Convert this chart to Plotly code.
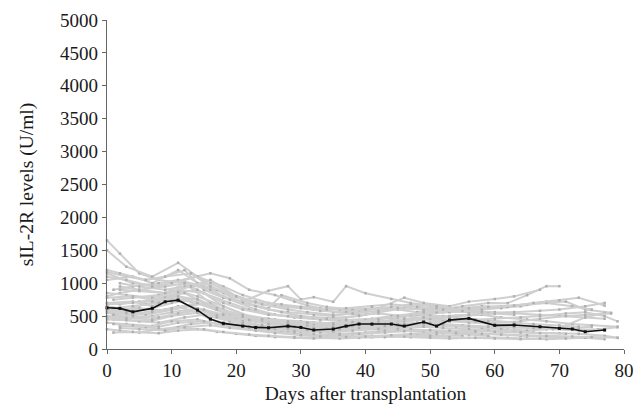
import plotly.graph_objects as go

# Median curve
median_days = [0,2,4,7,9,11,14,16,18,21,23,25,28,30,32,35,37,39,41,44,46,49,51,53,56,60,63,67,70,72,74,77]
median_vals = [626,617,565,617,717,742,591,455,389,348,328,323,348,328,288,303,348,379,379,379,348,409,348,439,465,359,364,338,313,303,262,288]

# Individual patients (days, values)
p01_d = [0,2,5,8,12,15,19,22,26,29,33,36,40]
p01_v = [1650,1450,1150,1050,1000,850,700,600,520,480,450,430,400]
p02_d = [0,3,7,11,14,18,21,25,28,32,35,39,42,46,49,53]
p02_v = [1500,1250,1100,1310,1100,950,820,700,650,600,560,520,540,500,470,450]
p03_d = [0,4,8,12,16,19,22,26,29,31,33,36,38]
p03_v = [1150,1000,960,1050,1150,1075,900,820,720,660,620,600,580]
p04_d = [0,3,6,9,12,15,18,21,25,28,30,32,35,37,40,44,47,50,53]
p04_v = [1170,1100,1050,1100,1200,900,780,720,885,955,753,788,717,955,848,760,700,660,620]
p05_d = [1,4,8,11,15,18,22,25,27,31,34,38,41,45,48,52,55,59,62,65,68,70]
p05_v = [900,950,1000,1050,950,800,680,620,818,700,640,600,620,600,560,600,650,700,697,818,955,955]
p06_d = [0,4,7,11,14,18,21,25,28,32,35,39,42,46,49,53,56,60,63,67]
p06_v = [1050,1100,1000,1200,1000,850,700,600,560,520,500,560,620,780,700,650,720,760,800,900]
p07_d = [2,5,9,12,16,19,23,26,30,33,37,40,44,47,51,54,58,61,64,67,71,74,78]
p07_v = [950,900,850,1000,900,750,600,520,480,450,480,520,600,650,620,580,600,620,650,700,720,600,550]
p08_d = [0,2,5,9,12,16,19,23,26,30,33,37,40,44,47,51,54,58,61,65,68,72,75,79]
p08_v = [800,850,900,950,1000,700,550,480,450,420,400,380,400,420,450,480,500,520,480,450,420,380,360,340]
p09_d = [1,4,8,11,15,18,22,25,29,32,36,39,43,46,50,53,57,60,64]
p09_v = [750,780,820,900,850,650,500,420,380,360,350,380,420,500,520,480,450,420,400]
p10_d = [0,4,7,11,14,18,21,25,28,32,35,39,42,46,49,53,56,60,63,67,70,74,77]
p10_v = [700,720,650,800,700,550,450,400,360,340,320,350,380,420,450,420,400,380,360,340,320,480,550]
p11_d = [0,3,6,10,13,17,20,24,27,31,34,38,41,45,48,52,55]
p11_v = [650,600,680,750,720,600,500,450,420,400,380,400,450,480,520,560,600]
p12_d = [2,5,9,12,16,19,23,26,30,33,37,40,44,47,51,54,58,61,65,68,72,75]
p12_v = [600,620,580,650,700,500,420,380,350,320,300,320,350,380,360,340,320,300,280,300,320,340]
p13_d = [0,2,4,7,9,11,14,16,18,21,23,25,28,30,32,35,37,39,42,44,46,49]
p13_v = [550,500,520,580,600,650,550,450,400,350,320,300,280,260,250,270,300,320,340,360,380,400]
p14_d = [0,3,7,10,14,17,21,24,28,31,35,38,42,45,49,52,56,59,63,66,70,73,77,79]
p14_v = [500,480,450,520,600,500,400,350,300,280,260,280,300,320,340,320,300,280,260,250,240,230,200,170]
p15_d = [1,5,8,12,15,19,22,26,29,33,36,40,43,47,50,54,57,61,64,68,71]
p15_v = [450,420,400,480,520,420,350,300,280,250,230,250,280,300,280,260,240,220,200,190,180]
p16_d = [0,3,7,10,14,17,21,24,28,31,35,38,42,45,49,52,56,59]
p16_v = [400,380,350,420,450,380,320,280,250,220,200,220,250,280,260,240,220,200]
p17_d = [2,6,9,13,16,20,23,27,30,34,37,41,44,48,51,55]
p17_v = [350,330,300,380,400,350,300,250,220,200,190,180,200,220,210,200]
p18_d = [0,2,5,8,11,14,17,20,23,26,29,32,35,38,41,44,47,50,53,56,59,62,65,68,71,74,77]
p18_v = [300,280,250,300,330,300,260,230,200,180,170,160,170,180,200,190,180,170,160,170,180,170,160,150,160,170,150]
p19_d = [1,4,8,11,15,18,22,25,29,32,36,39,43,46,50,53,57,60,64,67,71]
p19_v = [250,260,240,280,300,260,220,200,180,170,160,170,180,190,200,180,170,160,150,160,170]
p20_d = [0,3,7,11,14,18,21,25,28,32,35,39,42,46,49,53,56,60,63,67,70,74,77]
p20_v = [850,820,780,880,800,650,520,460,420,400,380,420,460,500,540,560,580,560,540,520,500,480,460]
p21_d = [2,5,9,12,16,19,23,26,30,33,37,40,44,47,51,54,58,61,65,68]
p21_v = [1000,950,900,950,1000,850,700,650,620,580,560,600,640,680,650,620,600,640,680,720]
p22_d = [0,4,7,11,14,18,21,25,28,32,35,39,42,46,49,53,56,60,63]
p22_v = [780,800,750,850,900,700,600,520,500,480,470,500,560,620,600,580,560,540,520]
p23_d = [1,4,8,11,15,18,22,25,29,32,36,39,43,46,50,53,57,60,64,67,71,74,78]
p23_v = [620,650,700,760,680,560,460,400,380,360,350,370,400,430,460,440,420,400,420,460,500,520,540]
p24_d = [0,3,6,10,13,17,20,24,27,31,34,38,41,45,48,52,55,59,62,66,69,73,76,79]
p24_v = [580,560,520,600,650,540,460,400,360,330,320,340,360,380,400,380,360,340,330,320,300,280,300,330]
p25_d = [0,3,7,10,14,17,21,24,28,31,35,38,42,45,49,52,56]
p25_v = [1100,1050,950,1000,1100,900,750,680,600,560,520,540,580,620,600,580,560]
p26_d = [2,5,9,13,16,20,23,27,30,34,37,41,44,48,51,55,58,62]
p26_v = [900,880,850,950,1050,800,650,560,500,460,440,460,500,540,580,620,650,640]
p27_d = [0,3,7,10,14,17,21,24,28,31,35,38,42,45,49,52,56,59,63,66,70,73]
p27_v = [480,460,500,560,620,520,420,360,320,300,280,300,330,360,400,420,440,420,400,380,360,340]
p28_d = [0,2,5,9,12,16,19,23,26,30,33,37,40,44,47,51,54,58,61,65,68,72,75]
p28_v = [700,680,720,780,850,650,520,450,420,400,390,410,440,480,520,560,600,620,650,680,700,650,600]
p29_d = [1,4,8,11,15,18,22,25,29,32,36,39,43,46,50,53,57,60,64,67,71]
p29_v = [380,360,340,400,420,360,300,260,240,220,210,230,250,270,290,280,270,260,250,240,230]
p30_d = [0,3,7,10,14,17,21,24,28,31,35,38,42,45,49,52,56,59,63]
p30_v = [550,540,560,620,700,600,480,420,380,360,340,360,400,440,480,500,520,540,560]
p31_d = [0,4,7,11,14,18,21,25,28,32,35,39,42,46,49,53,56,60,63,67,70,74,77]
p31_v = [680,700,720,800,750,600,500,440,400,380,370,390,420,460,480,500,520,540,560,580,600,650,700]
p32_d = [0,2,6,9,13,16,20,23,27,30,34,37,41,44,48,51,55,58]
p32_v = [1200,1150,1050,1100,1150,950,800,720,680,640,600,620,650,680,640,600,580,560]
p33_d = [2,5,9,12,16,19,23,26,30,33,37,40,44,47,51,54,58,61,65,68,72,75,79]
p33_v = [320,300,280,330,360,320,280,240,210,190,180,190,210,230,250,240,230,220,210,200,190,180,170]
p34_d = [0,3,7,10,14,17,21,24,28,31,35,38,42,45,49,52,56,59,63,66,70,73,77]
p34_v = [450,440,430,500,550,480,400,350,310,290,270,290,320,350,370,360,350,340,330,320,310,300,290]
p35_d = [1,4,8,11,15,18,22,25,29,32,36,39,43,46,50,53,57,60,64,67,71,74,77,79]
p35_v = [520,500,480,540,600,520,440,380,340,320,300,320,350,380,400,420,440,460,480,500,540,560,500,420]
p36_d = [0,3,7,10,14,17,21,24,28,31,35,38,42,45,49,52,56,59,63,66,70,73,77]
p36_v = [600,580,620,700,760,620,500,450,420,400,390,410,450,500,560,600,620,640,660,700,740,780,660]

patients = [
    (p01_d, p01_v), (p02_d, p02_v), (p03_d, p03_v), (p04_d, p04_v), (p05_d, p05_v),
    (p06_d, p06_v), (p07_d, p07_v), (p08_d, p08_v), (p09_d, p09_v), (p10_d, p10_v),
    (p11_d, p11_v), (p12_d, p12_v), (p13_d, p13_v), (p14_d, p14_v), (p15_d, p15_v),
    (p16_d, p16_v), (p17_d, p17_v), (p18_d, p18_v), (p19_d, p19_v), (p20_d, p20_v),
    (p21_d, p21_v), (p22_d, p22_v), (p23_d, p23_v), (p24_d, p24_v), (p25_d, p25_v),
    (p26_d, p26_v), (p27_d, p27_v), (p28_d, p28_v), (p29_d, p29_v), (p30_d, p30_v),
    (p31_d, p31_v), (p32_d, p32_v), (p33_d, p33_v), (p34_d, p34_v), (p35_d, p35_v),
    (p36_d, p36_v),
]

x_ticks = [0, 10, 20, 30, 40, 50, 60, 70, 80]
y_ticks = [0, 500, 1000, 1500, 2000, 2500, 3000, 3500, 4000, 4500, 5000]

fig = go.Figure()
for d, v in patients:
    fig.add_trace(go.Scatter(
        x=d, y=v, mode="lines+markers",
        line=dict(color="#cfcfcf", width=2),
        marker=dict(symbol="square", size=2.5, color="#b0b0b0"),
        cliponaxis=False, showlegend=False, hoverinfo="skip",
    ))
fig.add_trace(go.Scatter(
    x=median_days, y=median_vals, mode="lines+markers",
    line=dict(color="#111111", width=1.6),
    marker=dict(symbol="square", size=3, color="#111111"),
    cliponaxis=False, showlegend=False,
))

font_family = "Liberation Serif, Times New Roman, serif"
fig.update_layout(
    width=636, height=396,
    margin=dict(l=99, r=20, t=12, b=55),
    paper_bgcolor="white", plot_bgcolor="white",
    font=dict(family=font_family, size=19, color="#1a1a1a"),
)
fig.update_xaxes(
    range=[0, 80], tickvals=x_ticks, ticks="outside", ticklen=4, tickcolor="#666666",
    showline=True, linecolor="#666666", linewidth=1.2, showgrid=False, zeroline=False,
    title=dict(text="Days after transplantation", font=dict(size=19.5), standoff=7),
    tickfont=dict(size=19), automargin=False,
)
fig.update_yaxes(
    range=[0, 5000], tickvals=y_ticks, ticks="outside", ticklen=4, tickcolor="#666666",
    showline=True, linecolor="#666666", linewidth=1.2, showgrid=False, zeroline=False,
    title=dict(text="sIL-2R levels (U/ml)", font=dict(size=19.5), standoff=21),
    tickfont=dict(size=19), automargin=False,
)

fig.write_html("out.html")
